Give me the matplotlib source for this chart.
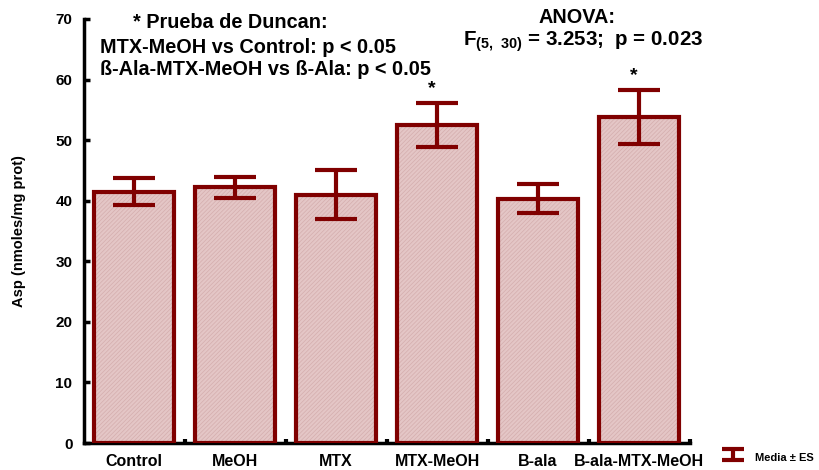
import numpy as np
from matplotlib import pyplot as plt
from matplotlib.ticker import FixedLocator

plt.rcParams['font.family'] = ['Liberation Sans', 'DejaVu Sans']
plt.rcParams['font.weight'] = 'bold'
plt.rcParams['mathtext.fontset'] = 'custom'
plt.rcParams['mathtext.rm'] = 'Liberation Sans:bold'
plt.rcParams['mathtext.bf'] = 'Liberation Sans:bold'
plt.rcParams['hatch.linewidth'] = 0.5

# Asp por grupo (media y error estándar)
grupos = ["Control", "MeOH", "MTX", "MTX-MeOH", "B-ala", "B-ala-MTX-MeOH"]
media = [41.5, 42.2, 41.0, 52.5, 40.3, 53.8]
es = [2.2, 1.7, 4.0, 3.6, 2.4, 4.4]
signif = [False, False, False, True, False, True]

rojo = "#800000"

fig = plt.figure(figsize=(8.19, 4.70), dpi=100)
ax = fig.add_axes([0.102, 0.0574, 0.740, 0.9022])

x = np.arange(len(grupos))
# relleno rayado fino y borde grueso por separado
ax.bar(x, media, width=0.8, color="#e4c6c6", edgecolor="#d4adad", hatch="////////", linewidth=0, zorder=2)
ax.bar(x, media, width=0.8, fill=False, edgecolor=rojo, linewidth=3, zorder=3)
ax.errorbar(x, media, yerr=es, fmt="none", ecolor=rojo, elinewidth=3,
            capsize=15, capthick=3, zorder=4)

for xi, m, e, s in zip(x, media, es, signif):
    if s:
        ax.text(xi - 0.05, m + e + 1.0, "*", ha="center", va="bottom", fontsize=14)

# símbolo de la leyenda (caps más cortos)
ley = ax.errorbar([np.nan], [np.nan], yerr=[1], fmt="none", ecolor=rojo, elinewidth=3,
                  capsize=8, capthick=3, label="Media ± ES")

ax.set_xlim(-0.5, len(grupos) - 0.5)
ax.set_ylim(0, 70)
ax.set_yticks(range(0, 71, 10))
ax.set_xticks(x)
ax.set_xticklabels(grupos, fontsize=11.5, fontweight="bold")
ax.xaxis.set_minor_locator(FixedLocator(np.arange(0.5, len(grupos), 1.0)))
ax.tick_params(axis="x", which="major", length=0, pad=8)
ax.tick_params(axis="x", which="minor", length=3, width=3, direction="in")
ax.tick_params(axis="y", length=4, width=2.5, direction="in", labelsize=11, pad=8)
for lab in ax.get_yticklabels():
    lab.set_fontweight("bold")

for s in ["top", "right"]:
    ax.spines[s].set_visible(False)
ax.spines["left"].set_linewidth(2.5)
ax.spines["bottom"].set_linewidth(2.5)
ax.set_ylabel("Asp (nmoles/mg prot)", fontsize=10.5, fontweight="bold", labelpad=21)

fig.text(0.281, 0.953, "* Prueba de Duncan:", ha="center", va="center", fontsize=14.3)
fig.text(0.122, 0.898, "MTX-MeOH vs Control: p < 0.05", ha="left", va="center", fontsize=14.3)
fig.text(0.122, 0.853, "ß-Ala-MTX-MeOH vs ß-Ala: p < 0.05", ha="left", va="center", fontsize=14.3)
fig.text(0.705, 0.962, "ANOVA:", ha="center", va="center", fontsize=14.3)
fig.text(0.712, 0.912, r"F$_{(5,\ 30)}$ = 3.253;  p = 0.023", ha="center", va="center", fontsize=14.8)

fig.legend(handles=[ley], loc="lower right", bbox_to_anchor=(1.006, -0.012), frameon=False,
           handlelength=1.4, handleheight=2.0, handletextpad=1.3,
           prop={"size": 8, "weight": "bold"})

plt.savefig("out.png", dpi=100)
